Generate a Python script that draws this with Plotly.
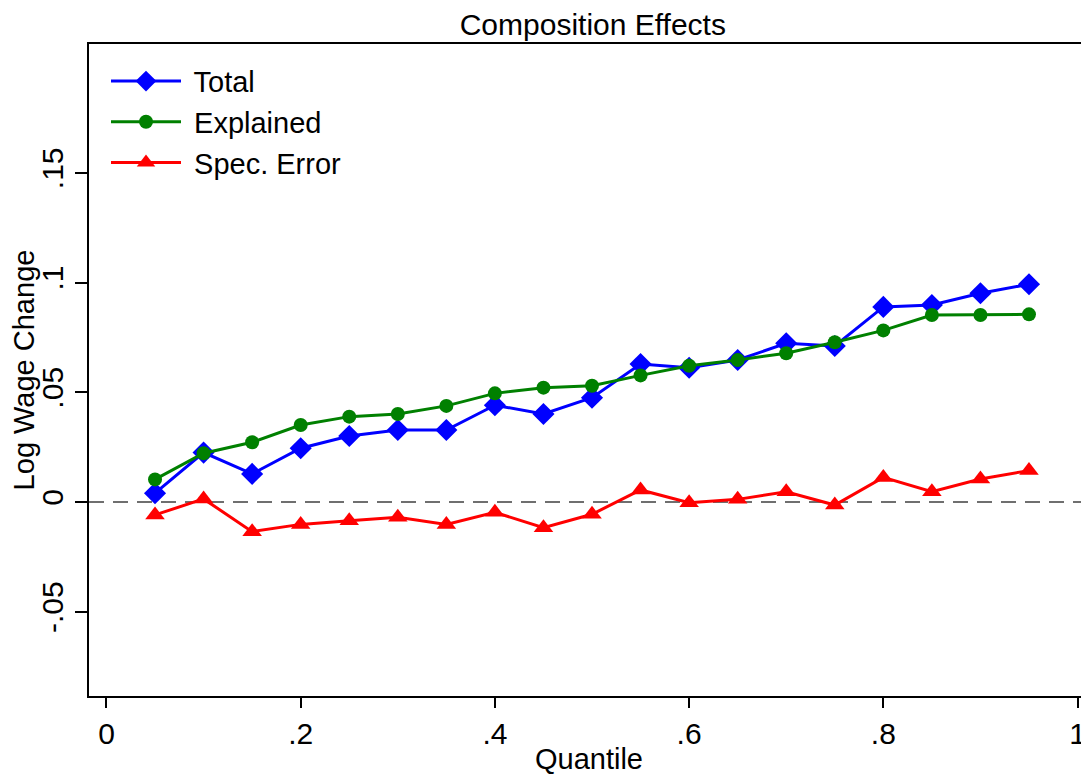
import plotly.graph_objects as go

quantile = [0.05, 0.10, 0.15, 0.20, 0.25, 0.30, 0.35, 0.40, 0.45, 0.50,
            0.55, 0.60, 0.65, 0.70, 0.75, 0.80, 0.85, 0.90, 0.95]
total = [0.0040, 0.0225, 0.0128, 0.0245, 0.0301, 0.0328, 0.0328, 0.0441, 0.0401, 0.0475,
         0.0629, 0.0612, 0.0647, 0.0723, 0.0711, 0.0889, 0.0898, 0.0951, 0.0992]
explained = [0.0103, 0.0222, 0.0272, 0.0351, 0.0389, 0.0401, 0.0438, 0.0495, 0.0521, 0.0530,
             0.0577, 0.0621, 0.0647, 0.0678, 0.0728, 0.0782, 0.0852, 0.0852, 0.0855]
spec_error = [-0.0059, 0.0014, -0.0135, -0.0102, -0.0085, -0.0070, -0.0102, -0.0047, -0.0117, -0.0056,
              0.0055, -0.0003, 0.0012, 0.0047, -0.0014, 0.0112, 0.0047, 0.0105, 0.0143]

x_ticks = [0, 0.2, 0.4, 0.6, 0.8, 1]
x_labels = ["0", ".2", ".4", ".6", ".8", "1"]
y_ticks = [-0.05, 0, 0.05, 0.1, 0.15]
y_labels = ["-.05", "0", ".05", ".1", ".15"]

FONT = "Liberation Sans, Arial, Helvetica, sans-serif"

fig = go.Figure()
fig.add_trace(go.Scatter(x=quantile, y=total, name=" Total", mode="lines+markers",
                         line=dict(color="#0000FF", width=3),
                         marker=dict(symbol="diamond", size=17, color="#0000FF")))
fig.add_trace(go.Scatter(x=quantile, y=explained, name=" Explained", mode="lines+markers",
                         line=dict(color="#008000", width=3),
                         marker=dict(symbol="circle", size=14, color="#008000")))
fig.add_trace(go.Scatter(x=quantile, y=spec_error, name=" Spec. Error", mode="lines+markers",
                         line=dict(color="#FF0000", width=3),
                         marker=dict(symbol="triangle-up", size=17, color="#FF0000")))

fig.add_hline(y=0, line=dict(color="#404040", width=1.5, dash="15px,9px"), layer="below")

fig.update_layout(
    width=1081, height=768,
    margin=dict(l=81, r=0, t=36, b=80, autoexpand=False),
    paper_bgcolor="white", plot_bgcolor="white",
    font=dict(family=FONT, size=29, color="black"),
    title=dict(text="Composition Effects", x=0.541, xanchor="center", y=0.979, yanchor="middle",
               font=dict(family=FONT, size=30, color="black")),
    legend=dict(x=0.017, y=0.982, xanchor="left", yanchor="top", bgcolor="rgba(0,0,0,0)",
                font=dict(family=FONT, size=29, color="black"), itemwidth=70,
                tracegroupgap=0),
    showlegend=True,
)
fig.update_xaxes(range=[-0.018, 1.0118], tickvals=x_ticks, ticktext=x_labels,
                 showgrid=False, zeroline=False, showline=True, linecolor="black", linewidth=2,
                 mirror=True, ticks="outside", ticklen=10, tickcolor="black", tickwidth=1.5,
                 tickfont=dict(size=30), automargin=False,
                 title=dict(text="Quantile", font=dict(size=29), standoff=0))
fig.update_yaxes(range=[-0.0884, 0.2087], tickvals=y_ticks, ticktext=y_labels,
                 showgrid=False, zeroline=False, showline=True, linecolor="black", linewidth=2,
                 ticks="outside", ticklen=12, tickcolor="black", tickwidth=1.5,
                 tickangle=-90, tickfont=dict(size=30), automargin=False,
                 title=dict(text="Log Wage Change", font=dict(size=29), standoff=0))

fig.write_html("out.html")
